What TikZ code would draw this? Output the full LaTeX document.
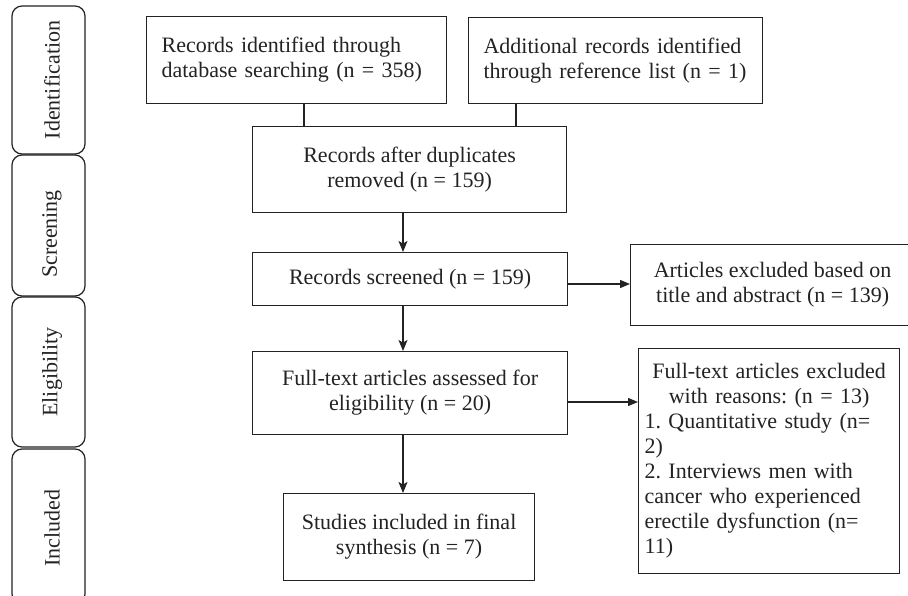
\documentclass[tikz,border=0pt]{standalone}
\usepackage{fontspec}
\setmainfont{Liberation Serif}
\usetikzlibrary{arrows.meta}
\definecolor{ink}{HTML}{232323}
\frenchspacing
\tikzset{
  every node/.style={text=ink, font=\fontsize{22}{25}\selectfont\frenchspacing},
  box/.style={draw=ink, line width=1.2pt, rectangle, anchor=north west, inner sep=0pt, align=center},
  stagebox/.style={draw=ink, line width=1.2pt, rounded corners=10pt},
  stagelabel/.style={rotate=90, inner sep=0pt},
  link/.style={draw=ink, line width=1.2pt},
  varrow/.style={draw=ink, line width=1.2pt, -{Stealth[length=11pt,width=9pt,inset=2.5pt]}},
  harrow/.style={draw=ink, line width=1.2pt, -{Triangle[length=10pt,width=8pt]}},
}
\begin{document}
\begin{tikzpicture}[x=1pt,y=-1pt]
\useasboundingbox (0,0) rectangle (908,596);
\clip (0,0) rectangle (908,596);
\fill[white] (0,0) rectangle (908,596);

% stage labels
\draw[stagebox] (12,6) rectangle (85,154);
\draw[stagebox] (12,155) rectangle (85,296);
\draw[stagebox] (12,297) rectangle (85,447);
\draw[stagebox] (12,449) rectangle (85,604);
\node[stagelabel] (s1) at (52,80) {Identification};
\node[stagelabel] (s2) at (52,234) {Screening};
\node[stagelabel] (s3) at (52,372) {Eligibility};
\node[stagelabel] (s4) at (52,528) {Included};

% boxes
\node[box, minimum width=300pt, minimum height=87pt, text width=270pt, inner xsep=15pt, align=left] (A) at (146,16)
  {Records identified through\\database searching (n = 358)};
\node[box, minimum width=294pt, minimum height=86pt, text width=264pt, inner xsep=15pt, align=left] (B) at (468,17)
  {Additional records identified\\through reference list (n = 1)};
\node[box, minimum width=314pt, minimum height=86pt] (C) at (252,126)
  {Records after duplicates\\removed (n = 159)};
\node[box, minimum width=315pt, minimum height=53pt] (D) at (252,252)
  {Records screened (n = 159)};
\node[box, minimum width=315pt, minimum height=83pt] (E) at (252,351)
  {Full-text articles assessed for\\eligibility (n = 20)};
\node[box, minimum width=284pt, minimum height=81pt] (F) at (630,244)
  {Articles excluded based on\\title and abstract (n = 139)};
\node[box, minimum width=261pt, minimum height=225pt, text width=249pt, inner xsep=6pt, align=left] (G) at (638,348)
  {\centering Full-text articles excluded\\with reasons: (n = 13)\par
   \raggedright 1. Quantitative study (n=\\2)\\2. Interviews men with\\cancer who experienced\\erectile dysfunction (n=\\11)\par};
\node[box, minimum width=251pt, minimum height=87pt] (H) at (283,493)
  {Studies included in final\\synthesis (n = 7)};

% helper coordinates for connector positions
\coordinate (xa) at (304,0);
\coordinate (xb) at (516,0);
\coordinate (xv) at (403,0);
\coordinate (yd) at (0,284);
\coordinate (ye) at (0,402);

% connectors
\draw[link] (A.south -| xa) -- (C.north -| xa);
\draw[link] (B.south -| xb) -- (C.north -| xb);
\draw[varrow] (C.south -| xv) -- (D.north -| xv);
\draw[varrow] (D.south -| xv) -- (E.north -| xv);
\draw[varrow] (E.south -| xv) -- (H.north -| xv);
\draw[harrow] (D.east |- yd) -- (F.west |- yd);
\draw[harrow] (E.east |- ye) -- (G.west |- ye);
\end{tikzpicture}
\end{document}
